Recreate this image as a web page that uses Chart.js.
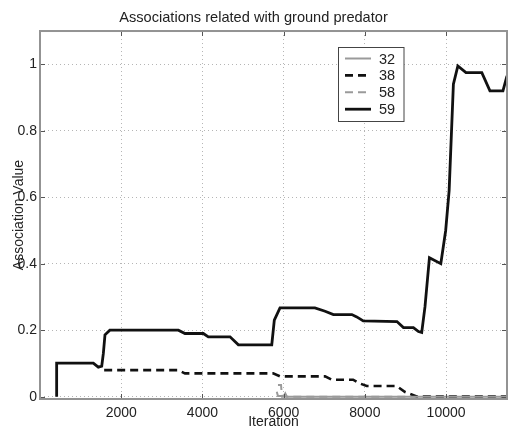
<!DOCTYPE html>
<html>
<head>
<meta charset="utf-8">
<script src="https://cdn.jsdelivr.net/npm/chart.js@4/dist/chart.umd.min.js"></script>
<style>
html,body{margin:0;padding:0;background:#fff;}
#wrap{width:512px;height:428px;}
</style>
</head>
<body>
<div id="wrap"><canvas id="c" width="512" height="428"></canvas></div>
<script>
// ---- data ----
const chartTitle = 'Associations related with ground predator';
const xTitle = 'Iteration';
const yTitle = 'Association Value';
const seriesLabels = ['32', '38', '58', '59'];

const s32x = [5830, 5860, 6000, 6040, 6080, 11500];
const s32y = [0.015, 0.002, 0.002, 0.01, 0, 0];

const s38x = [1580, 3400, 3570, 5740, 5910, 7020, 7190, 7710, 7850, 8045, 8785, 8990, 9290, 11500];
const s38y = [0.08, 0.08, 0.07, 0.07, 0.061, 0.061, 0.051, 0.051, 0.041, 0.032, 0.032, 0.014, 0, 0];

const s58x = [5860, 5935, 5960, 11500];
const s58y = [0.035, 0.035, 0, 0];

const s59x = [410, 410, 1313, 1436, 1520, 1560, 1600, 1720, 3407, 3570, 4022, 4145, 4680, 4885, 5707, 5770, 5910, 6770,
              7020, 7225, 7680, 7800, 7960, 8790, 8950, 9195, 9320, 9400, 9480, 9590, 9870, 9990, 10075, 10180, 10290,
              10490, 10880, 11080, 11400, 11500];
const s59y = [0, 0.101, 0.101, 0.089, 0.092, 0.13, 0.186, 0.2, 0.2, 0.19, 0.19, 0.18, 0.18, 0.156, 0.156, 0.23, 0.267, 0.267,
              0.257, 0.247, 0.247, 0.24, 0.228, 0.226, 0.208, 0.208, 0.196, 0.193, 0.27, 0.418, 0.40, 0.50, 0.62, 0.94, 0.995,
              0.975, 0.975, 0.92, 0.92, 0.965];

const xTickValues = [2000, 4000, 6000, 8000, 10000];
const xTickLabels = ['2000', '4000', '6000', '8000', '10000'];
const yTickValues = [0, 0.2, 0.4, 0.6, 0.8, 1];
const yTickLabels = ['0', '0.2', '0.4', '0.6', '0.8', '1'];
const xMin = 0, xMax = 11500, yMin = -0.007, yMax = 1.1;

// ---- styles ----
const seriesColors = ['#9a9a9a', '#111111', '#9a9a9a', '#111111'];
const seriesWidths = [2, 2.6, 2, 2.8];
const seriesDash = [[], [8, 5], [8, 5], []];

function pts(xs, ys) { return xs.map((x, i) => ({x: x, y: ys[i]})); }
const seriesData = [pts(s32x, s32y), pts(s38x, s38y), pts(s58x, s58y), pts(s59x, s59y)];

const FONT = '"Liberation Sans", Arial, Helvetica, sans-serif';

const framePlugin = {
  id: 'frame',
  afterDraw(chart) {
    const ctx = chart.ctx, a = chart.chartArea;
    const xs = chart.scales.x, ys = chart.scales.y;
    ctx.save();
    // inward tick marks
    ctx.strokeStyle = '#555';
    ctx.lineWidth = 1;
    ctx.beginPath();
    xTickValues.forEach(v => {
      const p = Math.round(xs.getPixelForValue(v)) + 0.5;
      ctx.moveTo(p, a.bottom); ctx.lineTo(p, a.bottom - 5);
      ctx.moveTo(p, a.top); ctx.lineTo(p, a.top + 5);
    });
    yTickValues.forEach(v => {
      const p = Math.round(ys.getPixelForValue(v)) + 0.5;
      ctx.moveTo(a.left, p); ctx.lineTo(a.left + 5, p);
      ctx.moveTo(a.right, p); ctx.lineTo(a.right - 5, p);
    });
    ctx.stroke();
    // frame
    ctx.strokeStyle = '#939393';
    ctx.lineWidth = 2;
    ctx.strokeRect(a.left, a.top, a.right - a.left, a.bottom - a.top);
    // legend
    const lx = 338.5, ly = 47.5, lw = 65.5, lh = 74;
    ctx.fillStyle = '#fff';
    ctx.fillRect(lx, ly, lw, lh);
    ctx.strokeStyle = '#444';
    ctx.lineWidth = 1;
    ctx.strokeRect(lx, ly, lw, lh);
    ctx.font = '14.5px ' + FONT;
    ctx.textBaseline = 'middle';
    ctx.textAlign = 'left';
    seriesLabels.forEach((lab, i) => {
      const y = 58.5 + i * 16.9;
      ctx.beginPath();
      ctx.strokeStyle = seriesColors[i];
      ctx.lineWidth = seriesWidths[i];
      ctx.setLineDash(seriesDash[i]);
      ctx.moveTo(345, y); ctx.lineTo(371, y);
      ctx.stroke();
      ctx.setLineDash([]);
      ctx.fillStyle = '#222';
      ctx.fillText(lab, 379, y + 1);
    });
    ctx.restore();
  }
};

new Chart(document.getElementById('c'), {
  type: 'line',
  data: {
    datasets: seriesLabels.map((lab, i) => ({
      label: lab,
      data: seriesData[i],
      borderColor: seriesColors[i],
      borderWidth: seriesWidths[i],
      borderDash: seriesDash[i],
      pointRadius: 0,
      tension: 0,
      fill: false
    }))
  },
  options: {
    responsive: false,
    animation: false,
    layout: {padding: {left: 0, right: 5, top: 0, bottom: 0}},
    plugins: {
      legend: {display: false},
      tooltip: {enabled: false},
      title: {
        display: true, text: chartTitle, color: '#222',
        font: {family: FONT, size: 14.6, weight: 'normal'},
        padding: {top: 9, bottom: 4.5}
      }
    },
    scales: {
      x: {
        type: 'linear', min: xMin, max: xMax,
        afterBuildTicks: s => { s.ticks = xTickValues.map(v => ({value: v})); },
        afterFit: s => { s.height = 29; },
        ticks: {
          color: '#222', font: {family: FONT, size: 14}, padding: 6, maxRotation: 0, autoSkip: false,
          callback: (v) => { const k = xTickValues.indexOf(v); return k >= 0 ? xTickLabels[k] : ''; }
        },
        grid: {color: '#b5b5b5', lineWidth: 1, drawTicks: false},
        border: {display: false, dash: [1, 3]},
        title: {display: true, text: xTitle, color: '#222', font: {family: FONT, size: 14}, padding: {top: 0, bottom: -3}}
      },
      y: {
        type: 'linear', min: yMin, max: yMax,
        afterBuildTicks: s => { s.ticks = yTickValues.map(v => ({value: v})); },
        afterFit: s => { s.width = 40; },
        ticks: {
          color: '#222', font: {family: FONT, size: 14}, padding: 3, autoSkip: false,
          callback: (v) => { const k = yTickValues.indexOf(v); return k >= 0 ? yTickLabels[k] : ''; }
        },
        grid: {color: '#b5b5b5', lineWidth: 1, drawTicks: false},
        border: {display: false, dash: [1, 3]},
        title: {display: true, text: yTitle, color: '#222', font: {family: FONT, size: 14}, padding: {top: 10.6, bottom: 0}}
      }
    }
  },
  plugins: [framePlugin]
});
</script>
</body>
</html>
